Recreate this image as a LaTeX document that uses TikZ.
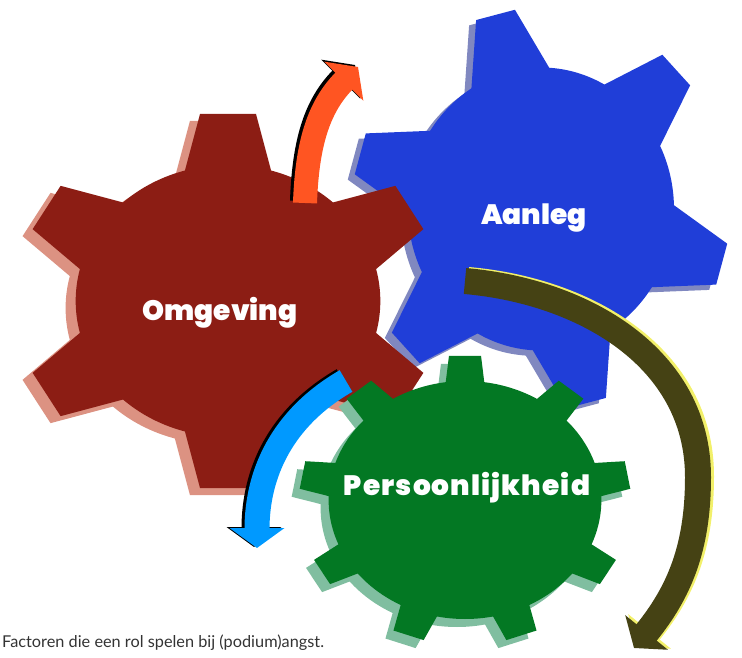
\documentclass[tikz,border=0pt]{standalone}
\usepackage{fontspec}
\setmainfont{Lato}
\newfontfamily\cogfont{Poppins Black}
\usetikzlibrary{arrows.meta}

\definecolor{cogred}{HTML}{8C1D14}
\definecolor{redshade}{HTML}{DC9282}
\definecolor{cogblue}{HTML}{203ED8}
\definecolor{blueshade}{HTML}{8088C0}
\definecolor{coggreen}{HTML}{037823}
\definecolor{greenshade}{HTML}{80BEA0}
\definecolor{turnorange}{HTML}{FF5522}
\definecolor{turnblue}{HTML}{0099FF}
\definecolor{turnolive}{HTML}{454214}
\definecolor{turnyellow}{HTML}{F2F06A}

\tikzset{
  cogtext/.style={text=white, inner sep=0pt, font=\cogfont\fontsize{28}{30}\selectfont},
  turn/.style={line width=25pt, -{Triangle[length=20pt,width=54pt]}},
}

% #1 colour, #2 outer radius, #3 body radius, #4 tooth angles,
% #5 half width at the tip, #6 half width at the foot
\newcommand{\cog}[6]{%
  \fill[#1] (0,0) circle (#3);
  \foreach \a in {#4}
    \fill[#1,rotate=\a] (#3-12,-#6) -- (#2,-#5) -- (#2,#5) -- (#3-12,#6) -- cycle;
}

\begin{document}
\begin{tikzpicture}[x=1pt,y=1pt]
  \useasboundingbox (0,0) rectangle (742,657);

  % Aanleg
  \begin{scope}[shift={(541,448)},yscale=1.064]
    \begin{scope}[shift={(-7,-5)}]
      \cog{blueshade}{188}{133}{-136,-76,-16,44,104,164}{20}{42}
    \end{scope}
    \cog{cogblue}{188}{133}{-136,-76,-16,44,104,164}{20}{42}
  \end{scope}

  % Omgeving
  \begin{scope}[shift={(228,356)},xscale=1.12]
    \begin{scope}[shift={(-9,-7)}]
      \cog{redshade}{187}{136}{30,90,150,210,270,330}{25}{40}
    \end{scope}
    \cog{cogred}{187}{136}{30,90,150,210,270,330}{25}{40}
  \end{scope}

  % Persoonlijkheid
  \begin{scope}[shift={(465,157)},xscale=1.146]
    \begin{scope}[shift={(-7,-8)}]
      \cog{greenshade}{144}{119}{10,50,90,130,170,210,250,290,330}{14}{18}
    \end{scope}
    \cog{coggreen}{144}{119}{10,50,90,130,170,210,250,290,330}{14}{18}
  \end{scope}

  \node[cogtext] (omgeving) at (220,344) {Omgeving};
  \node[cogtext] (aanleg) at (534,439) {Aanleg};
  \node[cogtext] (persoonlijkheid) at (467,169)
    {\addfontfeature{LetterSpace=4}Persoonlijkheid};

  % turning arrows
  \coordinate (up-from) at (305,454);
  \coordinate (up-to) at (358,590);
  \coordinate (down-from) at (346,276);
  \coordinate (down-to) at (257,109);
  \coordinate (round-from) at (465,376);
  \coordinate (round-via) at (698,180);
  \coordinate (round-to) at (634,9);

  \draw[turn,line width=24pt,black,transform canvas={shift={(-3pt,2pt)}}]
    (up-from) to[out=88,in=225] (up-to);
  \draw[turn,line width=24pt,turnorange] (up-from) to[out=88,in=225] (up-to);

  \draw[turn,black,transform canvas={shift={(-3pt,1pt)}}]
    (down-from) to[out=210,in=90] (down-to);
  \draw[turn,turnblue] (down-from) to[out=210,in=90] (down-to);

  \draw[turn,line width=26pt,turnyellow,transform canvas={shift={(3pt,1pt)}}]
    (round-from) to[out=-5,in=90] (round-via) to[out=-90,in=51] (round-to);
  \draw[turn,line width=26pt,turnolive]
    (round-from) to[out=-5,in=90] (round-via) to[out=-90,in=51] (round-to);

  \node[anchor=base west, inner sep=0pt, text=black!80, font=\fontsize{16.3}{18}\selectfont]
    (caption) at (2,10) {Factoren die een rol spelen bij (podium)angst.};
\end{tikzpicture}
\end{document}
